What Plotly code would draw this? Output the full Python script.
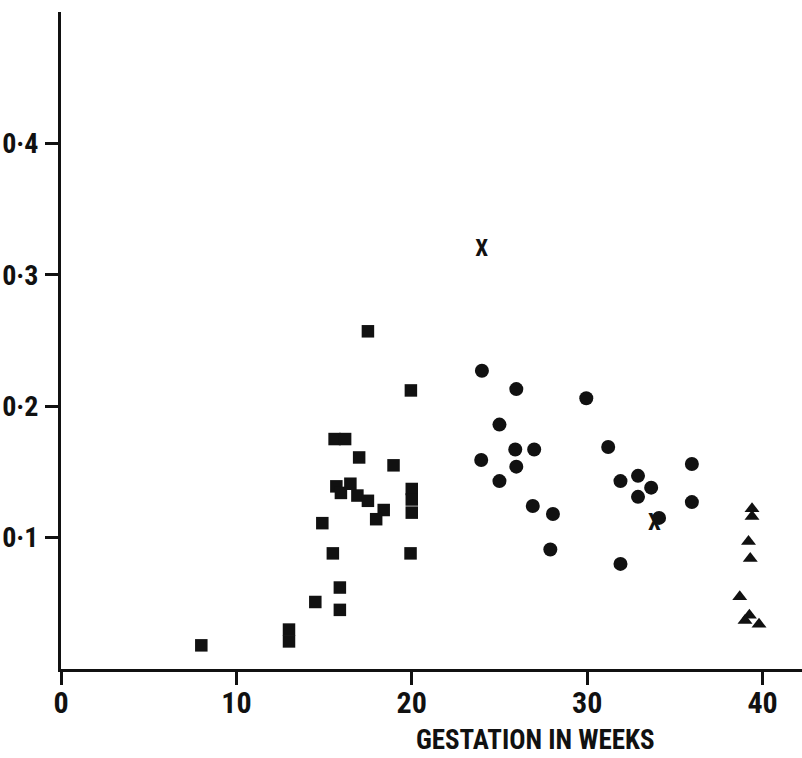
import plotly.graph_objects as go

# ---- data (weeks of gestation, value) ----
sq_x = [8, 13, 13, 14.5, 15.9, 15.9, 14.9, 15.5, 15.6, 16.2, 17.5, 19.95, 17.0, 18.96,
        15.7, 15.96, 16.5, 16.9, 17.5, 18.4, 17.97, 20.0, 20.0, 20.0, 19.93]
sq_y = [0.018, 0.030, 0.021, 0.051, 0.062, 0.045, 0.111, 0.088, 0.175, 0.175, 0.257, 0.212, 0.161, 0.155,
        0.139, 0.134, 0.141, 0.132, 0.128, 0.121, 0.114, 0.137, 0.129, 0.119, 0.088]

ci_x = [24.0, 25.96, 29.95, 25.0, 25.9, 26.98, 23.96, 25.96, 25.0, 31.2, 35.97,
        32.9, 31.9, 33.65, 32.9, 35.97, 26.9, 28.05, 34.1, 27.9, 31.9]
ci_y = [0.227, 0.213, 0.206, 0.186, 0.167, 0.167, 0.159, 0.154, 0.143, 0.169, 0.156,
        0.147, 0.143, 0.138, 0.131, 0.127, 0.124, 0.118, 0.115, 0.091, 0.080]

tr_x = [39.4, 39.4, 39.2, 39.3, 38.7, 39.25, 39.0, 39.8]
tr_y = [0.122, 0.116, 0.097, 0.084, 0.055, 0.041, 0.037, 0.034]

cross_x = [23.98, 33.84]
cross_y = [0.319, 0.110]

x_ticks = [0, 10, 20, 30, 40]
x_ticktext = ["0", "10", "20", "30", "40"]
y_ticks = [0.1, 0.2, 0.3, 0.4]
y_ticktext = ["0·1", "0·2", "0·3", "0·4"]
x_title = "GESTATION IN WEEKS"

FONT = "Noto Sans Condensed, Roboto Condensed, Open Sans Condensed, Roboto, sans-serif"
INK = "#111111"

fig = go.Figure()
fig.add_trace(go.Scatter(x=sq_x, y=sq_y, mode="markers",
                         marker=dict(symbol="square", size=12.5, color=INK, line=dict(width=0))))
fig.add_trace(go.Scatter(x=ci_x, y=ci_y, mode="markers",
                         marker=dict(symbol="circle", size=14, color=INK, line=dict(width=0))))
fig.add_trace(go.Scatter(x=tr_x, y=tr_y, mode="markers",
                         marker=dict(symbol="triangle-up", size=13, color=INK, line=dict(width=0))))
fig.add_trace(go.Scatter(x=cross_x, y=cross_y, mode="text", text=["X"] * len(cross_x),
                         textposition="middle center",
                         textfont=dict(family=FONT, size=23, color=INK, weight="bold")))

fig.update_layout(
    width=802, height=758,
    margin=dict(l=61, r=0, t=12, b=89),
    paper_bgcolor="white", plot_bgcolor="white",
    showlegend=False,
    font=dict(family=FONT, color=INK),
    xaxis=dict(range=[0, 42.25], tickvals=x_ticks, ticktext=x_ticktext,
               showline=True, linewidth=3, linecolor=INK, mirror=False,
               ticks="outside", ticklen=13, tickwidth=3, tickcolor=INK,
               showgrid=False, zeroline=False, ticklabelstandoff=-8, automargin=False,
               tickfont=dict(family=FONT, size=30, color=INK, weight="bold")),
    yaxis=dict(range=[0, 0.5], tickvals=y_ticks, ticktext=y_ticktext,
               showline=True, linewidth=3, linecolor=INK, mirror=False,
               ticks="outside", ticklen=13, tickwidth=3, tickcolor=INK,
               showgrid=False, zeroline=False, ticklabelstandoff=1, automargin=False,
               tickfont=dict(family=FONT, size=28, color=INK, weight="bold")),
    annotations=[dict(text=x_title, xref="paper", yref="paper",
                      x=(535 - 61) / 741, y=-(740 - 669) / 657,
                      xanchor="center", yanchor="middle", showarrow=False,
                      font=dict(family=FONT, size=27, color=INK, weight="bold"))],
)

fig.write_html("out.html")
